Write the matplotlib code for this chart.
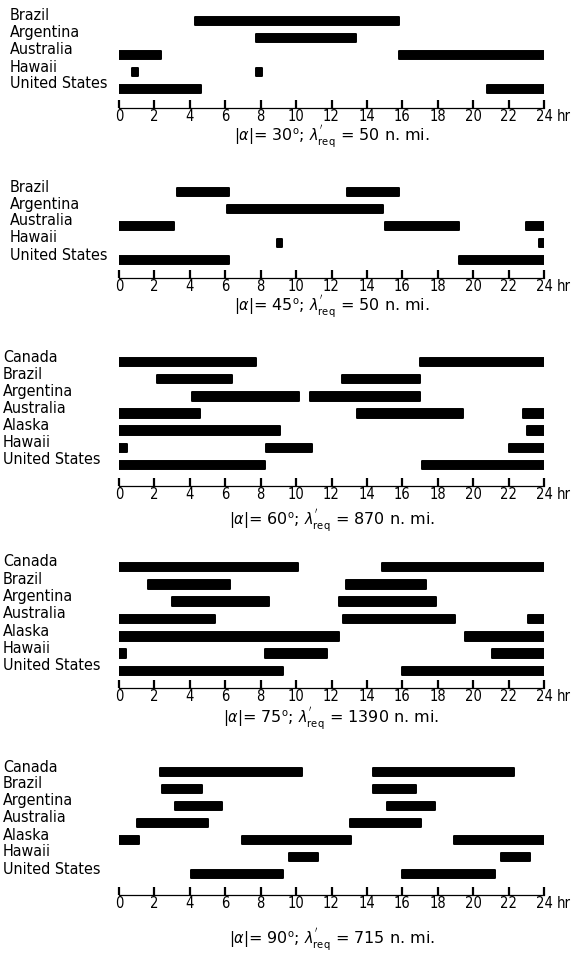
import matplotlib
matplotlib.use("Agg")
import matplotlib.pyplot as plt

# names of the sites, top row first
sites_short = ["Brazil", "Argentina", "Australia", "Hawaii", "United States"]
sites_long = ["Canada", "Brazil", "Argentina", "Australia", "Alaska", "Hawaii", "United States"]

# visibility windows (start hr, end hr) per site
win_30 = [
    [(4.3, 15.8)],
    [(7.75, 13.4)],
    [(0.0, 2.35), (15.8, 24.0)],
    [(0.75, 1.05), (7.75, 8.1)],
    [(0.0, 4.65), (20.8, 24.0)],
]
win_45 = [
    [(3.3, 6.2), (12.9, 15.8)],
    [(6.1, 14.9)],
    [(0.0, 3.1), (15.0, 19.2), (23.0, 24.0)],
    [(8.9, 9.2), (23.7, 24.0)],
    [(0.0, 6.2), (19.2, 24.0)],
]
win_60 = [
    [(0.0, 7.75), (17.0, 24.0)],
    [(2.15, 6.4), (12.6, 17.0)],
    [(4.15, 10.15), (10.8, 17.0)],
    [(0.0, 4.6), (13.45, 19.4), (22.8, 24.0)],
    [(0.0, 9.1), (23.05, 24.0)],
    [(0.0, 0.45), (8.3, 10.9), (22.0, 24.0)],
    [(0.0, 8.25), (17.1, 24.0)],
]
win_75 = [
    [(0.0, 10.1), (14.85, 24.0)],
    [(1.65, 6.25), (12.8, 17.35)],
    [(3.0, 8.45), (12.4, 17.9)],
    [(0.0, 5.4), (12.65, 19.0), (23.1, 24.0)],
    [(0.0, 12.45), (19.55, 24.0)],
    [(0.0, 0.4), (8.25, 11.75), (21.05, 24.0)],
    [(0.0, 9.25), (16.0, 24.0)],
]
win_90 = [
    [(2.3, 10.35), (14.35, 22.3)],
    [(2.45, 4.7), (14.35, 16.75)],
    [(3.15, 5.8), (15.15, 17.85)],
    [(1.0, 5.05), (13.05, 17.05)],
    [(-0.05, 1.15), (6.95, 13.1), (18.9, 24.0)],
    [(9.6, 11.25), (21.55, 23.2)],
    [(4.05, 9.25), (16.0, 21.25)],
]

alphas = [30, 45, 60, 75, 90]
lam_req = [50, 50, 870, 1390, 715]
panel_sites = [sites_short, sites_short, sites_long, sites_long, sites_long]
panel_windows = [win_30, win_45, win_60, win_75, win_90]
hour_ticks = list(range(0, 25, 2))

# layout in pixels: first row, last row, axis line, caption, label x
W, H = 572, 958
layout = [
    (21, 89, 108, 137, 10),
    (192, 260, 278, 307, 10),
    (362, 465, 486, 521, 3),
    (567, 671, 688, 719, 3),
    (772, 874, 895, 940, 3),
]

plt.rcParams['font.family'] = ['DejaVu Sans']
plt.rcParams['font.stretch'] = 'condensed'
plt.rcParams['mathtext.fontset'] = 'dejavusans'

fig = plt.figure(figsize=(W / 100, H / 100), dpi=100)
x0, x1 = 119, 544

for k in range(5):
    first, last, axis_px, cap_px, lab_x = layout[k]
    sites = panel_sites[k]
    n = len(sites)
    sp = (last - first) / (n - 1)
    top = first - sp / 2
    ax = fig.add_axes([x0 / W, 1 - axis_px / H, (x1 - x0) / W, (axis_px - top) / H])
    for i, wins in enumerate(panel_windows[k]):
        ax.broken_barh([(a, b - a) for a, b in wins], (i - 0.25, 0.5),
                       facecolors='black', edgecolors='black', linewidth=1.4,
                       joinstyle='round', capstyle='round')
        fig.text(lab_x / W, 1 - (first + i * sp - 5) / H, sites[i],
                 fontsize=11.5, ha='left', va='center', color='black')
    ax.set_xlim(0, 24)
    ax.set_ylim((axis_px - first) / sp, -0.5)
    for s in ['top', 'left', 'right']:
        ax.spines[s].set_visible(False)
    ax.spines['bottom'].set_linewidth(0.9)
    ax.set_yticks([])
    ax.set_xticks(hour_ticks)
    ax.set_xticklabels([str(h) for h in hour_ticks])
    ax.tick_params(axis='x', direction='in', length=6, width=1.6, pad=1, labelsize=10.5)
    ax.annotate('hr', xy=(24, 0), xycoords=('data', 'axes fraction'),
                xytext=(9, -1), textcoords='offset points',
                ha='left', va='top', fontsize=10.5)
    cap = (r"$|\alpha|$= " + str(alphas[k]) + r"$^{\mathrm{o}}$; "
           + r"$\lambda^{'}_{\mathrm{req}}$ = " + str(lam_req[k]) + " n. mi.")
    fig.text((x0 + x1) / 2 / W, 1 - cap_px / H, cap, ha='center', va='center',
             fontsize=11.5, fontstretch='normal')

fig.savefig("out.png", dpi=100)
